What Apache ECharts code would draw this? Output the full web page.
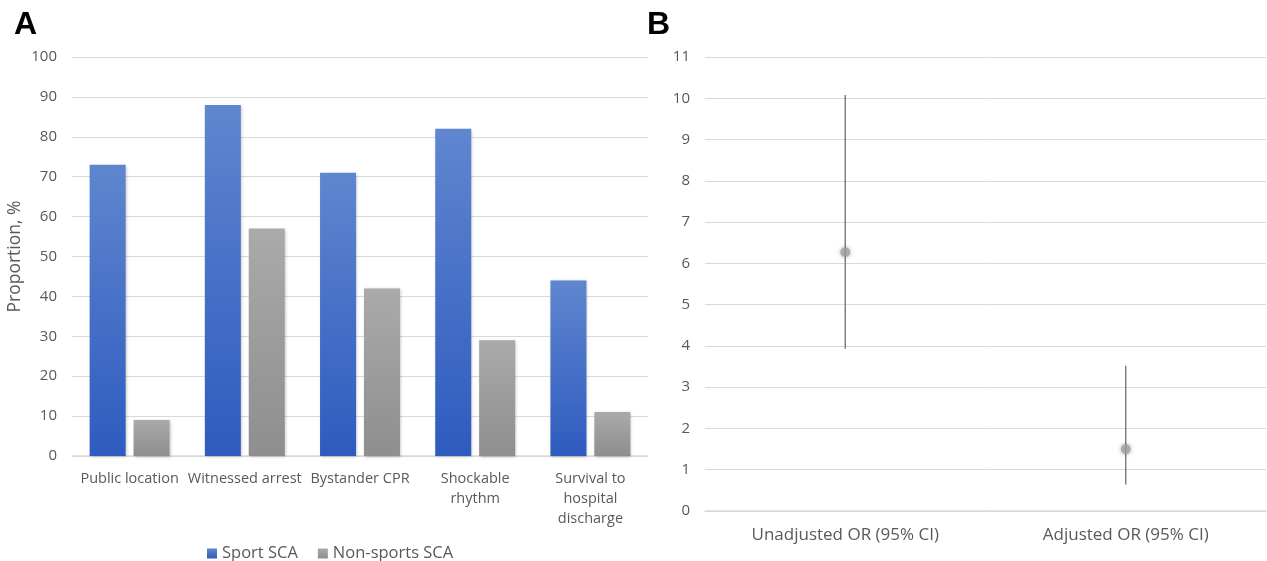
<!DOCTYPE html>
<html><head><meta charset="utf-8">
<script src="https://cdn.jsdelivr.net/npm/echarts@6/dist/echarts.min.js"></script>
<style>html,body{margin:0;padding:0;background:#fff}#c{width:1267px;height:561px}</style>
</head><body><div id="c"></div>
<script>
const categoriesA = ['Public location', 'Witnessed arrest', 'Bystander CPR', 'Shockable\nrhythm', 'Survival to\nhospital\ndischarge'];
const sportSCA = [73, 88, 71, 82, 44];
const nonSportsSCA = [9, 57, 42, 29, 11];
const ticksA = [0, 10, 20, 30, 40, 50, 60, 70, 80, 90, 100];

const categoriesB = ['Unadjusted OR (95% CI)', 'Adjusted OR (95% CI)'];
const orPoint = [6.27, 1.50];
const orLower = [3.93, 0.64];
const orUpper = [10.08, 3.52];

const font = 'Open Sans';
const labelColor = '#595959';
const gridColor = '#d9d9d9';

const chart = echarts.init(document.getElementById('c'), null, {renderer: 'canvas'});
chart.setOption({
  animation: false,
  backgroundColor: '#fff',
  textStyle: {fontFamily: font},
  title: [
    {text: 'A', left: 9, top: 4, textStyle: {fontFamily: 'Liberation Sans', fontWeight: 'bold', fontSize: 32, color: '#000'}},
    {text: 'B', left: 642, top: 4, textStyle: {fontFamily: 'Liberation Sans', fontWeight: 'bold', fontSize: 32, color: '#000'}}
  ],
  legend: {
    left: 202, top: 540,
    itemWidth: 10, itemHeight: 10, itemGap: 20, itemTextGap: 5,
    icon: 'rect',
    textStyle: {fontFamily: font, fontSize: 16.5, color: labelColor},
    data: ['Sport SCA', 'Non-sports SCA']
  },
  grid: [
    {left: 72, right: 1267 - 648, top: 57, bottom: 561 - 456},
    {left: 705, right: 1, top: 57, bottom: 561 - 511}
  ],
  xAxis: [
    {type: 'category', gridIndex: 0, data: categoriesA,
     axisLine: {lineStyle: {color: gridColor, width: 1.5}}, axisTick: {show: false},
     axisLabel: {fontFamily: font, fontSize: 14.5, color: labelColor, margin: 13, lineHeight: 20, interval: 0}},
    {type: 'category', gridIndex: 1, data: categoriesB,
     axisLine: {lineStyle: {color: gridColor, width: 1.5}}, axisTick: {show: false},
     axisLabel: {fontFamily: font, fontSize: 17, color: labelColor, margin: 16}}
  ],
  yAxis: [
    {type: 'value', gridIndex: 0, min: 0, max: 100, interval: 10,
     name: 'Proportion, %', nameLocation: 'middle', nameGap: 48,
     nameTextStyle: {fontFamily: font, fontSize: 17.5, color: labelColor},
     axisLine: {show: false}, axisTick: {show: false},
     axisLabel: {fontFamily: font, fontSize: 15, color: labelColor, margin: 15,
       formatter: v => ticksA.includes(v) ? String(v) : ''},
     splitLine: {lineStyle: {color: gridColor, width: 1}}},
    {type: 'value', gridIndex: 1, min: 0, max: 11, interval: 1,
     axisLine: {show: false}, axisTick: {show: false},
     axisLabel: {fontFamily: font, fontSize: 15, color: labelColor, margin: 15},
     splitLine: {lineStyle: {color: gridColor, width: 1}}}
  ],
  series: [
    {name: 'Sport SCA', type: 'bar', xAxisIndex: 0, yAxisIndex: 0, data: sportSCA,
     barWidth: 36, barGap: '22%',
     itemStyle: {color: new echarts.graphic.LinearGradient(0, 0, 0, 1, [
       {offset: 0, color: '#5f86cf'}, {offset: 1, color: '#2e5bbf'}]),
       shadowColor: 'rgba(0,0,0,0.25)', shadowBlur: 3, shadowOffsetX: 1, shadowOffsetY: 1}},
    {name: 'Non-sports SCA', type: 'bar', xAxisIndex: 0, yAxisIndex: 0, data: nonSportsSCA,
     barWidth: 36,
     itemStyle: {color: new echarts.graphic.LinearGradient(0, 0, 0, 1, [
       {offset: 0, color: '#aaaaaa'}, {offset: 1, color: '#8e8e8e'}]),
       shadowColor: 'rgba(0,0,0,0.25)', shadowBlur: 3, shadowOffsetX: 1, shadowOffsetY: 1}},
    {type: 'custom', xAxisIndex: 1, yAxisIndex: 1,
     data: categoriesB.map((c, i) => [i, orLower[i], orUpper[i]]),
     renderItem: (params, api) => {
       const lo = api.coord([api.value(0), api.value(1)]);
       const hi = api.coord([api.value(0), api.value(2)]);
       return {type: 'line', shape: {x1: lo[0], y1: lo[1], x2: hi[0], y2: hi[1]},
               style: {stroke: '#6e6e6e', lineWidth: 1.3}};
     }, z: 2},
    {type: 'scatter', xAxisIndex: 1, yAxisIndex: 1,
     data: categoriesB.map((c, i) => [i, orPoint[i]]),
     symbol: 'circle', symbolSize: 10,
     itemStyle: {color: '#a3a3a3', shadowColor: 'rgba(0,0,0,0.35)', shadowBlur: 4},
     z: 3}
  ]
});
</script></body></html>
